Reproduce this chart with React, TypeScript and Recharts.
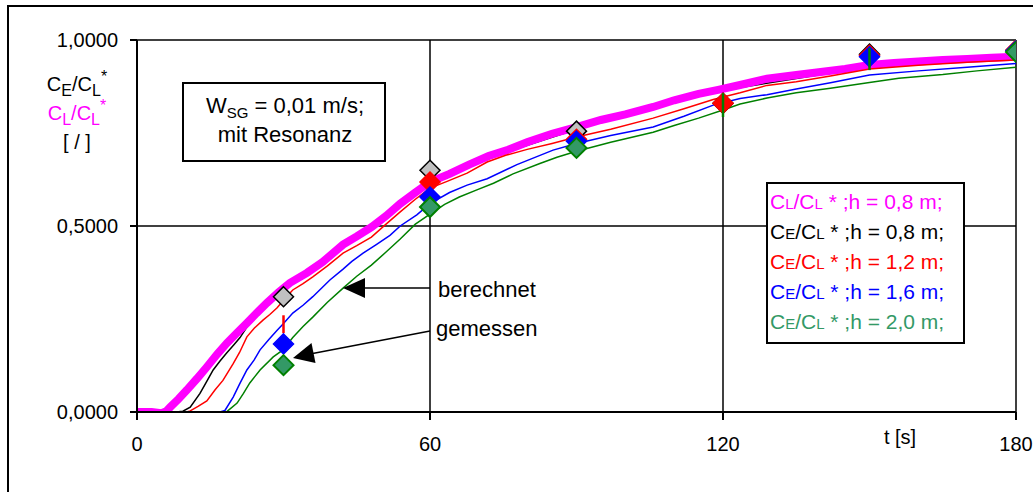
import React from 'react';
import { ComposedChart, Line, Scatter, XAxis, YAxis, CartesianGrid, ErrorBar } from 'recharts';

const X_TICKS = [0, 60, 120, 180];
const Y_TICKS = [0, 0.5, 1];

// berechnet: [t in s, C/C*]
const CL_08: [number, number][] = [
  [0, 0], [3, 0], [5, -0.003], [6, 0.002], [6.8, 0.013], [8.5, 0.035], [10.2, 0.059], [12.3, 0.09], [14.3, 0.121],
  [16.4, 0.155], [18.4, 0.185], [20.5, 0.213], [22.5, 0.239], [24.5, 0.266], [26.6, 0.293], [29, 0.322],
  [31.3, 0.347], [34.8, 0.374], [38, 0.403], [42.2, 0.45], [45, 0.472], [48, 0.497], [51, 0.527], [53.9, 0.56],
  [57, 0.59], [60, 0.618], [64, 0.64], [68, 0.665], [72, 0.688], [76, 0.705], [80, 0.726], [85, 0.748], [90, 0.766],
  [95, 0.785], [100, 0.8], [105.7, 0.82], [110, 0.838], [115, 0.855], [119, 0.866], [123.5, 0.879], [129, 0.896],
  [135, 0.906], [140, 0.914], [145, 0.922], [150, 0.933], [155, 0.938], [160, 0.942], [165, 0.946], [170, 0.949],
  [175, 0.952], [180, 0.955],
];
const CE_08: [number, number][] = [
  [0, 0], [8, 0], [9.4, 0.002], [10.9, 0.013], [12.9, 0.05], [14.2, 0.08], [15.6, 0.113], [17, 0.137],
  [18.4, 0.159], [19.8, 0.18], [21.1, 0.2], [22.5, 0.228], [23.8, 0.255], [25.8, 0.29], [28, 0.315], [31, 0.342],
  [36, 0.388], [42, 0.445], [48, 0.492], [54, 0.555], [60, 0.612], [68, 0.66], [76, 0.7], [90, 0.76],
  [105, 0.815], [120, 0.865], [150, 0.928], [180, 0.952],
];
const CE_12: [number, number][] = [
  [0, 0], [9, -0.004], [10.9, 0.003], [12.5, 0.015], [14.3, 0.03], [16, 0.06], [17.6, 0.085], [19.7, 0.13],
  [21, 0.16], [22.5, 0.202], [24, 0.225], [25.8, 0.247], [27.2, 0.262], [28.7, 0.28], [30.3, 0.305], [31.9, 0.328],
  [34, 0.345], [36, 0.363], [39, 0.393], [42.2, 0.427], [45, 0.447], [48, 0.47], [51, 0.505], [53.9, 0.538],
  [57, 0.572], [60, 0.602], [63.5, 0.62], [67.6, 0.642], [71.7, 0.672], [75.5, 0.69], [79.9, 0.706], [85, 0.722],
  [90, 0.739], [97, 0.76], [105.7, 0.79], [112, 0.815], [118, 0.84], [123.5, 0.858], [129, 0.878], [135, 0.888],
  [142, 0.903], [150, 0.922], [160, 0.932], [170, 0.94], [180, 0.946],
];
const CE_16: [number, number][] = [
  [0, 0], [14, 0], [16, -0.004], [18, 0.004], [19.7, 0.04], [21, 0.075], [22.5, 0.113], [24, 0.14], [25.2, 0.167],
  [27, 0.195], [28.7, 0.22], [30, 0.238], [31.9, 0.266], [34, 0.287], [36, 0.31], [39.5, 0.355], [42.2, 0.384],
  [44, 0.405], [46.3, 0.427], [49, 0.45], [51.8, 0.475], [53.9, 0.5], [57.3, 0.53], [60, 0.56], [64, 0.59],
  [67.6, 0.61], [71.7, 0.627], [77.8, 0.665], [85.2, 0.704], [90, 0.722], [97, 0.743], [105.7, 0.766], [112, 0.795],
  [118, 0.825], [123.5, 0.843], [129, 0.853], [135, 0.868], [142, 0.885], [150, 0.906], [160, 0.917], [170, 0.927],
  [180, 0.937],
];
const CE_20: [number, number][] = [
  [0, 0], [12, 0], [16, -0.003], [18.4, 0.001], [20.5, 0.024], [21.8, 0.05], [23.1, 0.078], [25.2, 0.113],
  [27.9, 0.148], [29.9, 0.167], [31.9, 0.2], [34, 0.23], [36, 0.255], [39, 0.295], [42.2, 0.333], [45, 0.365],
  [48, 0.395], [51, 0.43], [53.9, 0.465], [57, 0.505], [60, 0.532], [63, 0.558], [66, 0.578], [69.6, 0.597],
  [73, 0.615], [77, 0.64], [82.5, 0.668], [86, 0.685], [90, 0.701], [97, 0.725], [105.7, 0.752], [110, 0.77],
  [115, 0.79], [120, 0.812], [123.5, 0.828], [129, 0.844], [135, 0.858], [142, 0.87], [150, 0.886], [156, 0.897],
  [165, 0.907], [172, 0.917], [180, 0.927],
];

// gemessen
const M_08: [number, number][] = [[30, 0.31], [60, 0.65], [90, 0.755], [120, 0.83], [150, 0.962], [180, 0.972]];
const M_12: [number, number][] = [[60, 0.618], [90, 0.733], [120, 0.83], [150, 0.959], [180, 0.973]];
const M_16: [number, number][] = [[30, 0.183], [60, 0.578], [90, 0.728], [150, 0.955], [180, 0.971]];
const M_20: [number, number][] = [[30, 0.126], [60, 0.551], [90, 0.71], [180, 0.968]];

// Streubalken [t, von, bis]
const BAR_12: [number, number, number][] = [[30, 0.212, 0.26]];
const BAR_20: [number, number, number][] = [[120, 0.793, 0.857], [150, 0.919, 0.978]];

const LEGEND = [
  { idx: 'L', h: '0,8', color: '#ff00ff' },
  { idx: 'E', h: '0,8', color: '#000000' },
  { idx: 'E', h: '1,2', color: '#ff0000' },
  { idx: 'E', h: '1,6', color: '#0000ff' },
  { idx: 'E', h: '2,0', color: '#339966' },
];

const FONT = '"Liberation Sans", Arial, sans-serif';
const toPts = (arr: [number, number][]) => arr.map(([t, v]) => ({ t, v }));
const toBars = (arr: [number, number, number][]) =>
  arr.map(([t, lo, hi]) => {
    const mid = (lo + hi) / 2;
    return { t, v: mid, err: [mid - lo, hi - mid] };
  });
const fmt = (v: number) => v.toFixed(4).replace('.', ',');

function diamond(fill: string, stroke: string, sw = 1.5) {
  return (props: any) => {
    const { cx, cy } = props;
    if (cx == null || cy == null) return <g />;
    const r = 10;
    return (
      <path
        d={`M${cx},${cy - r}L${cx + r},${cy}L${cx},${cy + r}L${cx - r},${cy}Z`}
        fill={fill}
        stroke={stroke}
        strokeWidth={sw}
      />
    );
  };
}

const noShape = () => <g />;

function Overlay() {
  return (
    <svg width={1033} height={492} style={{ position: 'absolute', left: 0, top: 0, pointerEvents: 'none' }} fontFamily={FONT}>
      <rect x={8} y={6} width={1100} height={600} fill="none" stroke="#000" strokeWidth={2} />

      {/* Achsbeschriftung */}
      <text x={77} y={91} fontSize={20} textAnchor="middle" fill="#000">
        C<tspan fontSize={16} dy={5}>E</tspan><tspan dy={-5}>/C</tspan><tspan fontSize={16} dy={5}>L</tspan>
        <tspan fontSize={16} dy={-14}>*</tspan>
      </text>
      <text x={77} y={120} fontSize={20} textAnchor="middle" fill="#ff00ff">
        C<tspan fontSize={16} dy={5}>L</tspan><tspan dy={-5}>/C</tspan><tspan fontSize={16} dy={5}>L</tspan>
        <tspan fontSize={16} dy={-14}>*</tspan>
      </text>
      <text x={77} y={149} fontSize={20} textAnchor="middle" fill="#000">[ / ]</text>
      <text x={900} y={444} fontSize={20} textAnchor="middle" fill="#000">t [s]</text>

      {/* Randbedingungen */}
      <rect x={183} y={83} width={202} height={78} fill="#fff" stroke="#000" strokeWidth={2} />
      <text x={285} y={113} fontSize={22} textAnchor="middle" fill="#000">
        W<tspan fontSize={15} dy={5}>SG</tspan><tspan dy={-5}> = 0,01 m/s;</tspan>
      </text>
      <text x={285} y={142} fontSize={22} textAnchor="middle" fill="#000">mit Resonanz</text>

      {/* Pfeile */}
      <line x1={430} y1={288} x2={360} y2={288} stroke="#000" strokeWidth={1.5} />
      <path d="M343,288L365,278L365,298Z" fill="#000" />
      <text x={438} y={297} fontSize={22} fill="#000">berechnet</text>
      <line x1={430} y1={331} x2={310} y2={354} stroke="#000" strokeWidth={1.5} />
      <path d="M293,358L311.5,343L315.5,363Z" fill="#000" />
      <text x={436} y={336} fontSize={22} fill="#000">gemessen</text>

      {/* Legende */}
      <rect x={767} y={183} width={197} height={160} fill="#fff" stroke="#000" strokeWidth={2} />
      {LEGEND.map((row, i) => (
        <text key={i} x={770} y={209 + i * 30} fontSize={21} fill={row.color}>
          C<tspan fontSize={15}>{row.idx}</tspan>/C<tspan fontSize={15}>L</tspan> * ;h = {row.h} m;
        </text>
      ))}
    </svg>
  );
}

export default function App() {
  return (
    <div style={{ position: 'absolute', left: 0, top: 0, width: 1033, height: 492, background: '#fff', fontFamily: FONT, overflow: 'hidden' }}>
      <ComposedChart width={1033} height={492} margin={{ top: 40, right: 17, bottom: 30, left: 0 }}>
        <CartesianGrid stroke="#000" strokeWidth={1.5} horizontalValues={Y_TICKS} verticalValues={X_TICKS} />
        <XAxis
          type="number"
          dataKey="t"
          domain={[0, 180]}
          ticks={X_TICKS}
          height={50}
          stroke="#000"
          strokeWidth={2}
          tickSize={8}
          tickMargin={17}
          tick={{ fill: '#000', fontSize: 20 }}
          allowDataOverflow
        />
        <YAxis
          type="number"
          domain={[0, 1]}
          ticks={Y_TICKS}
          width={137}
          stroke="#000"
          strokeWidth={2}
          tickSize={7}
          tickMargin={12}
          tickFormatter={fmt}
          tick={{ fill: '#000', fontSize: 20 }}
          allowDataOverflow
        />
        <Line data={toPts(CE_08)} dataKey="v" stroke="#000" strokeWidth={1.5} dot={false} isAnimationActive={false} />
        <Line data={toPts(CL_08)} dataKey="v" stroke="#ff00ff" strokeWidth={8} dot={false} isAnimationActive={false} />
        <Line data={toPts(CE_12)} dataKey="v" stroke="#ff0000" strokeWidth={1.5} dot={false} isAnimationActive={false} />
        <Line data={toPts(CE_16)} dataKey="v" stroke="#0000ff" strokeWidth={1.5} dot={false} isAnimationActive={false} />
        <Line data={toPts(CE_20)} dataKey="v" stroke="#008000" strokeWidth={1.5} dot={false} isAnimationActive={false} />
        <Scatter data={toPts(M_08)} dataKey="v" shape={diamond('#c0c0c0', '#000')} isAnimationActive={false} />
        <Scatter data={toBars(BAR_12)} dataKey="v" shape={noShape} isAnimationActive={false}>
          <ErrorBar dataKey="err" direction="y" width={0} stroke="#ff0000" strokeWidth={2.5} isAnimationActive={false} />
        </Scatter>
        <Scatter data={toPts(M_12)} dataKey="v" shape={diamond('#ff0000', '#ff0000')} isAnimationActive={false} />
        <Scatter data={toPts(M_16)} dataKey="v" shape={diamond('#0000ff', '#0000ff')} isAnimationActive={false} />
        <Scatter data={toPts(M_20)} dataKey="v" shape={diamond('#339966', '#008000', 2)} isAnimationActive={false} />
        <Scatter data={toBars(BAR_20)} dataKey="v" shape={noShape} isAnimationActive={false} zIndex={900}>
          <ErrorBar
            dataKey="err"
            direction="y"
            width={0}
            stroke="#008000"
            strokeWidth={2.5}
            isAnimationActive={false}
            zIndex={900}
          />
        </Scatter>
      </ComposedChart>
      <Overlay />
    </div>
  );
}
